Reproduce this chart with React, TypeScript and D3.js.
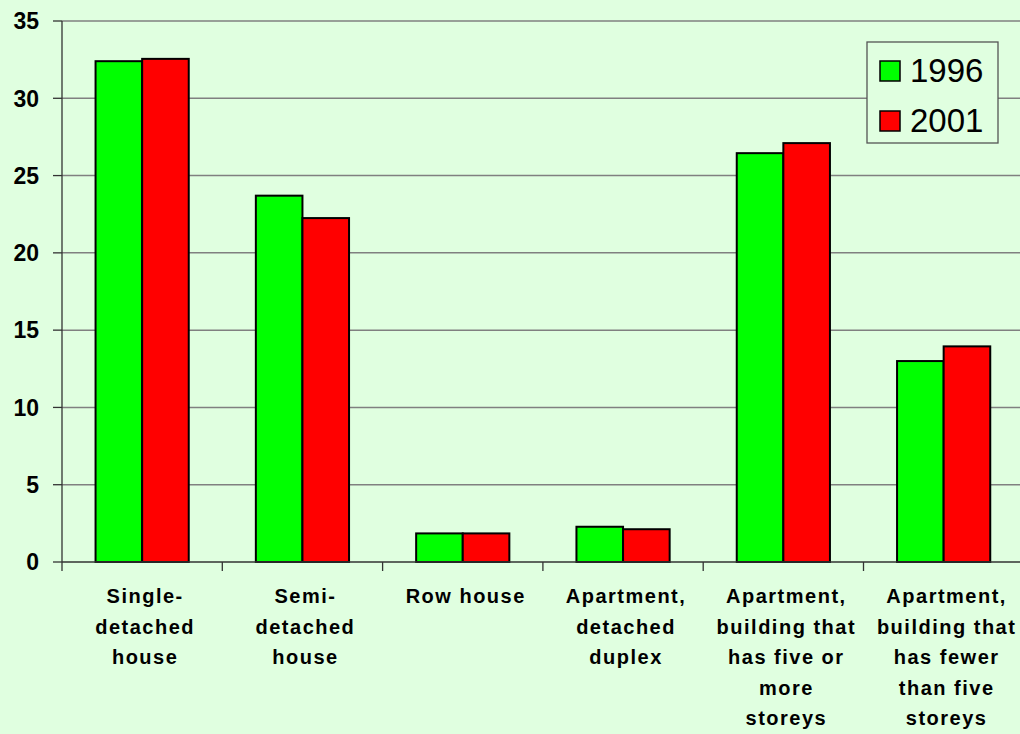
import React from "react";
import * as d3 from "d3";

// Chart data
const categories = [
  "Single-detached house",
  "Semi-detached house",
  "Row house",
  "Apartment, detached duplex",
  "Apartment, building that has five or more storeys",
  "Apartment, building that has fewer than five storeys",
];
const labelLines = [
  ["Single-", "detached", "house"],
  ["Semi-", "detached", "house"],
  ["Row house"],
  ["Apartment,", "detached", "duplex"],
  ["Apartment,", "building that", "has five or", "more", "storeys"],
  ["Apartment,", "building that", "has fewer", "than five", "storeys"],
];
const series = ["1996", "2001"];
const values1996 = [32.4, 23.7, 1.85, 2.28, 26.45, 13.0];
const values2001 = [32.55, 22.25, 1.85, 2.12, 27.1, 13.95];
const yTicks = [0, 5, 10, 15, 20, 25, 30, 35];

const colors: Record<string, string> = { "1996": "#00FF00", "2001": "#FF0000" };
const bg = "#E0FFE0";

const width = 1020;
const height = 734;
const margin = { top: 21, left: 62, bottom: 172 };
const bandW = 160.3;

export default function App() {
  const x = d3
    .scaleBand<string>()
    .domain(categories)
    .range([margin.left, margin.left + bandW * categories.length])
    .paddingInner(0)
    .paddingOuter(0);

  const xSub = d3
    .scaleBand<string>()
    .domain(series)
    .range([0, x.bandwidth()])
    .paddingInner(0)
    .paddingOuter(0.72);

  const y = d3
    .scaleLinear()
    .domain([0, 35])
    .range([height - margin.bottom, margin.top]);

  const rows = categories.map((c, i) => ({
    cat: c,
    vals: [
      { s: "1996", v: values1996[i] },
      { s: "2001", v: values2001[i] },
    ],
  }));

  const font = "Arial, 'Liberation Sans', sans-serif";

  return (
    <svg
      width={width}
      height={height}
      style={{ position: "absolute", left: 0, top: 0, background: bg }}
      fontFamily={font}
    >
      <rect x={0} y={0} width={width} height={height} fill={bg} />

      {/* gridlines */}
      {yTicks.filter((t) => t > 0).map((t) => (
        <line
          key={"g" + t}
          x1={margin.left}
          x2={width}
          y1={y(t)}
          y2={y(t)}
          stroke="#808080"
          strokeWidth={1.5}
        />
      ))}

      {/* y axis */}
      <line x1={margin.left} x2={margin.left} y1={y(35)} y2={y(0)} stroke="#333" strokeWidth={1.3} />
      {yTicks.map((t) => (
        <g key={"t" + t}>
          <line x1={53} x2={margin.left} y1={y(t)} y2={y(t)} stroke="#333" strokeWidth={1.3} />
          <text
            x={39}
            y={y(t)}
            dy="0.36em"
            textAnchor="end"
            fontSize={23}
            fontWeight="bold"
            fill="#000"
          >
            {t}
          </text>
        </g>
      ))}

      {/* bars */}
      {rows.map((r) => (
        <g key={r.cat} transform={`translate(${x(r.cat)},0)`}>
          {r.vals.map((d) => (
            <rect
              key={d.s}
              x={xSub(d.s)}
              y={y(d.v)}
              width={xSub.bandwidth()}
              height={y(0) - y(d.v)}
              fill={colors[d.s]}
              stroke="#000"
              strokeWidth={2}
            />
          ))}
        </g>
      ))}

      {/* x axis */}
      <line x1={margin.left} x2={width} y1={y(0)} y2={y(0)} stroke="#333" strokeWidth={1.3} />
      {categories.map((c) => (
        <line
          key={"xt" + c}
          x1={x(c)}
          x2={x(c)}
          y1={y(0)}
          y2={y(0) + 9}
          stroke="#333"
          strokeWidth={1.3}
        />
      ))}

      {/* category labels */}
      {categories.map((c, i) => {
        const cx = (x(c) as number) + x.bandwidth() / 2 + 3;
        return (
          <text
            key={"l" + c}
            x={cx}
            y={603}
            textAnchor="middle"
            fontSize={20}
            fontWeight="bold"
            letterSpacing={1.5}
            fill="#000"
          >
            {labelLines[i].map((ln, j) => (
              <tspan key={j} x={cx} dy={j === 0 ? 0 : 30.6}>
                {ln}
              </tspan>
            ))}
          </text>
        );
      })}

      {/* legend */}
      <g>
        <rect x={867} y={42} width={131} height={101} fill={bg} stroke="#555" strokeWidth={1.3} />
        {series.map((s, i) => (
          <g key={s} transform={`translate(0,${i * 50})`}>
            <rect x={880} y={61} width={20} height={20} fill={colors[s]} stroke="#000" strokeWidth={1.5} />
            <text x={910} y={82} fontSize={33} fill="#000">
              {s}
            </text>
          </g>
        ))}
      </g>
    </svg>
  );
}
